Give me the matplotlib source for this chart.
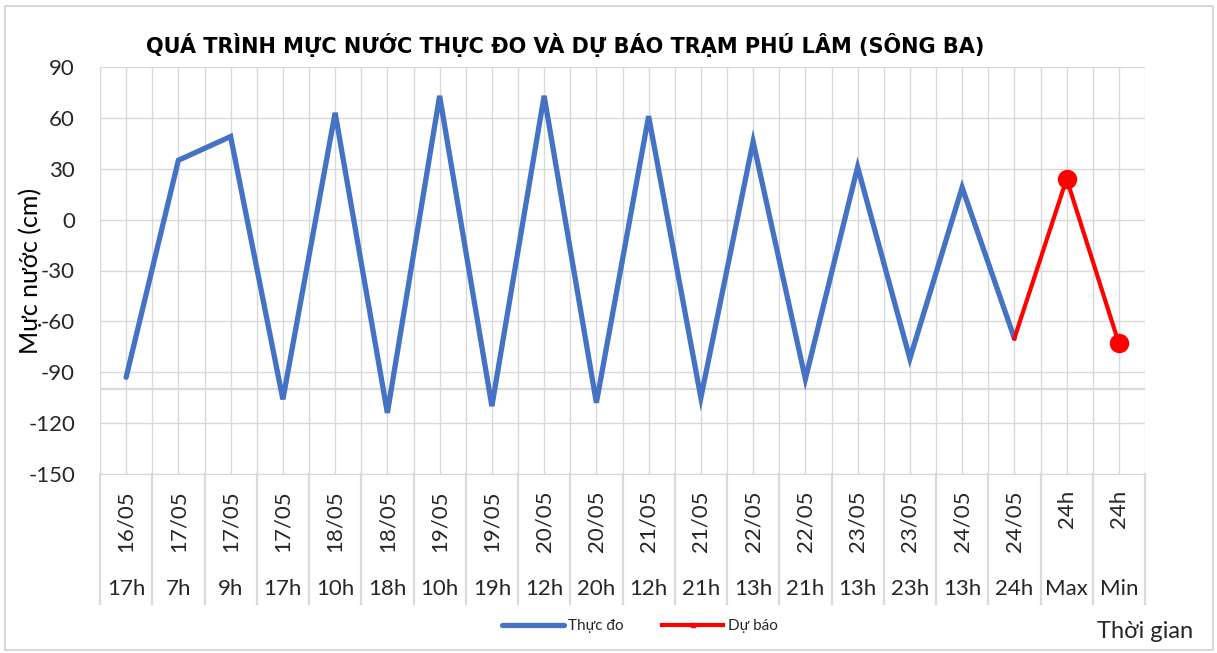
import matplotlib.pyplot as plt
from matplotlib.lines import Line2D
from matplotlib.patches import Rectangle

# data
dates = ['16/05', '17/05', '17/05', '17/05', '18/05', '18/05', '19/05', '19/05',
         '20/05', '20/05', '21/05', '21/05', '22/05', '22/05', '23/05', '23/05',
         '24/05', '24/05', '24h', '24h']
hours = ['17h', '7h', '9h', '17h', '10h', '18h', '10h', '19h', '12h', '20h',
         '12h', '21h', '13h', '21h', '13h', '23h', '13h', '24h', 'Max', 'Min']
thuc_do = [-93, 35, 49, -106, 63, -114, 73, -110, 73, -108,
           61, -105, 46, -94, 31, -82, 19, -70]
du_bao = [-70, 24, -73]   # 24/05 24h, Max, Min
yticks = [-150, -120, -90, -60, -30, 0, 30, 60, 90]

plt.rcParams['font.family'] = ['Lato', 'DejaVu Sans']

fig = plt.figure(figsize=(12.17, 6.53), dpi=100)
ax = fig.add_axes([100/1217, 1-474/653, 1045/1217, 407/653])

grid_c = '#d9d9d9'
txt_c = '#262626'
n = len(hours)
x_td = list(range(len(thuc_do)))
x_db = list(range(len(thuc_do)-1, n))

ax.plot(x_td, thuc_do, color='#4472C4', lw=3.8, solid_capstyle='round',
        solid_joinstyle='miter', zorder=3)
ax.plot(x_db, du_bao, color='#FF0000', lw=3.0, marker='o', markersize=13,
        markevery=[1, 2], zorder=4)

ax.set_xlim(-0.5, n-0.5)
ax.set_ylim(-150, 90)
ax.set_yticks(yticks)
ax.set_yticklabels([str(v) for v in yticks], fontsize=16, color=txt_c)
ax.set_xticks(range(n))
ax.set_xticks([i-0.5 for i in range(n+1)], minor=True)
ax.set_xticklabels([])
ax.tick_params(axis='both', which='both', length=0)
ax.tick_params(axis='y', pad=18)
ax.grid(True, which='both', axis='x', color=grid_c, lw=1)
ax.grid(True, which='major', axis='y', color=grid_c, lw=1)
ax.axhline(-100, color=grid_c, lw=1.6, zorder=1)
for s in ax.spines.values():
    s.set_color(grid_c)
ax.spines['top'].set_visible(False)
ax.spines['right'].set_visible(False)
ax.set_axisbelow(True)

# two-level category labels
trans = ax.get_xaxis_transform()
for i in range(n):
    ax.text(i, -16/407, dates[i], rotation=90, ha='center', va='top',
            fontsize=16, transform=trans, color=txt_c)
    ax.text(i, -115/407, hours[i], ha='center', va='center',
            fontsize=16, transform=trans, color=txt_c)
for i in range(n+1):
    ax.plot([i-0.5, i-0.5], [0, -130/407], color=grid_c, lw=1.6,
            transform=trans, clip_on=False)

ax.set_ylabel('Mực nước (cm)', fontsize=18, color='black')
ax.yaxis.set_label_coords(-58/1045, 0.5)

fig.text(565/1217, 1-45/653, 'QUÁ TRÌNH MỰC NƯỚC THỰC ĐO VÀ DỰ BÁO TRẠM PHÚ LÂM (SÔNG BA)',
         ha='center', va='center', fontsize=15, fontweight='bold',
         family=['Liberation Sans Narrow', 'DejaVu Sans'])
fig.text(1193/1217, 1-632/653, 'Thời gian', ha='right', va='center', fontsize=17,
         color=txt_c)

handles = [Line2D([], [], color='#4472C4', lw=3.8, solid_capstyle='round'),
           Line2D([], [], color='#FF0000', lw=3.0, marker='s', markersize=3)]
fig.legend(handles, ['Thực đo', 'Dự báo'], loc='center', ncol=2,
           bbox_to_anchor=(640/1217, 1-626/653), frameon=False, fontsize=11,
           handlelength=4, handletextpad=0.3, columnspacing=2.5,
           labelcolor=txt_c)

fig.add_artist(Rectangle((5/1217, 3/653), 1208/1217, 644/653, transform=fig.transFigure,
                         fill=False, edgecolor=grid_c, lw=1.5))

fig.savefig('out.png', dpi=100)
